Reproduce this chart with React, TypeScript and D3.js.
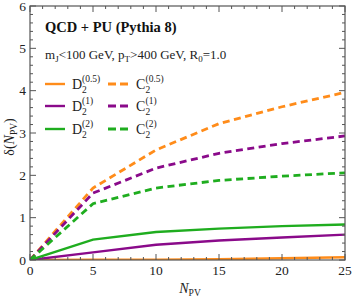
import React from "react";
import * as d3 from "d3";

const npv = [0, 5, 10, 15, 20, 25];
const D2_05 = [0, 0.005, 0.01, 0.02, 0.04, 0.065];
const D2_1 = [0, 0.18, 0.36, 0.46, 0.53, 0.6];
const D2_2 = [0, 0.48, 0.66, 0.74, 0.8, 0.84];
const C2_05 = [0, 1.7, 2.6, 3.22, 3.62, 3.96];
const C2_1 = [0, 1.58, 2.17, 2.52, 2.75, 2.93];
const C2_2 = [0, 1.33, 1.7, 1.88, 1.98, 2.06];
const xTicks = [0, 5, 10, 15, 20, 25];
const yTicks = [0, 1, 2, 3, 4, 5, 6];

const ORANGE = "#ff8c1a";
const PURPLE = "#8a0a8a";
const GREEN = "#1fad1f";

const series = [
  { vals: D2_05, color: ORANGE, dashed: false, sup: "(0.5)", base: "D" },
  { vals: D2_1, color: PURPLE, dashed: false, sup: "(1)", base: "D" },
  { vals: D2_2, color: GREEN, dashed: false, sup: "(2)", base: "D" },
  { vals: C2_05, color: ORANGE, dashed: true, sup: "(0.5)", base: "C" },
  { vals: C2_1, color: PURPLE, dashed: true, sup: "(1)", base: "C" },
  { vals: C2_2, color: GREEN, dashed: true, sup: "(2)", base: "C" },
];

export default function App() {
  const W = 354, H = 299;
  const L = 30, R = 345, T = 6, B = 260;
  const x = d3.scaleLinear().domain([0, 25]).range([L, R]);
  const y = d3.scaleLinear().domain([0, 6]).range([B, T]);
  const line = d3.line<number>().x((_, i) => x(npv[i])).y((v) => y(v));
  const font = "'Liberation Serif', 'DejaVu Serif', serif";
  const frame = "#555";
  const xMinor = d3.range(0, 25.01, 1);
  const yMinor = d3.range(0, 6.001, 0.2);

  const legendRows = [84, 106, 129];
  return (
    <div style={{ position: "fixed", left: 0, top: 0 }}>
      <svg width={W} height={H} style={{ display: "block", background: "white" }} fontFamily={font}>
        <defs>
          <clipPath id="clip">
            <rect x={L} y={T} width={R - L} height={B - T} />
          </clipPath>
        </defs>
        <g clipPath="url(#clip)">
          {series.map((s, i) => (
            <path
              key={i}
              d={line(s.vals) || ""}
              fill="none"
              stroke={s.color}
              strokeWidth={s.dashed ? 2.8 : 2.4}
              strokeDasharray={s.dashed ? "7,4.5" : undefined}
            />
          ))}
        </g>
        <rect x={L} y={T} width={R - L} height={B - T} fill="none" stroke={frame} strokeWidth={1.2} />
        {xMinor.map((v) => {
          const major = v % 5 === 0;
          const len = major ? 6 : 3;
          return (
            <g key={"xt" + v}>
              <line x1={x(v)} x2={x(v)} y1={B} y2={B - len} stroke={frame} strokeWidth={1} />
              <line x1={x(v)} x2={x(v)} y1={T} y2={T + len} stroke={frame} strokeWidth={1} />
            </g>
          );
        })}
        {yMinor.map((v) => {
          const major = Math.abs(v - Math.round(v)) < 1e-6;
          const len = major ? 6 : 3;
          return (
            <g key={"yt" + v.toFixed(1)}>
              <line x1={L} x2={L + len} y1={y(v)} y2={y(v)} stroke={frame} strokeWidth={1} />
              <line x1={R} x2={R - len} y1={y(v)} y2={y(v)} stroke={frame} strokeWidth={1} />
            </g>
          );
        })}
        {xTicks.map((v) => (
          <text key={"xl" + v} x={x(v)} y={B + 14.5} fontSize={13.5} textAnchor="middle" fill="#222">
            {v}
          </text>
        ))}
        {yTicks.map((v) => (
          <text key={"yl" + v} x={L - 4} y={y(v) + 4.5} fontSize={13.5} textAnchor="end" fill="#222">
            {v}
          </text>
        ))}
        <text x={190} y={B + 33} fontSize={14} textAnchor="middle" fill="#222">
          <tspan fontStyle="italic">N</tspan>
          <tspan fontSize={9.5} dy={3}>PV</tspan>
        </text>
        <text transform={`translate(14, 137) rotate(-90)`} fontSize={14} textAnchor="middle" fill="#222">
          δ(<tspan fontStyle="italic">N</tspan>
          <tspan fontSize={9.5} dy={3}>PV</tspan>
          <tspan dy={-3}>)</tspan>
        </text>
        <text x={45} y={32} fontSize={14.5} fontWeight="bold" fill="#111">
          QCD + PU (Pythia 8)
        </text>
        <text x={45} y={59} fontSize={13} fill="#222">
          m<tspan fontSize={9} dy={3}>J</tspan>
          <tspan dy={-3}>&lt;100 GeV, p</tspan>
          <tspan fontSize={9} dy={3}>T</tspan>
          <tspan dy={-3}>&gt;400 GeV, R</tspan>
          <tspan fontSize={9} dy={3}>0</tspan>
          <tspan dy={-3}>=1.0</tspan>
        </text>
        {series.map((s, i) => {
          const row = i % 3;
          const col = Math.floor(i / 3);
          const cy = legendRows[row];
          const lx = col === 0 ? 45 : 108;
          const tx = col === 0 ? 72 : 136;
          const bw = s.base === "D" ? 10 : 9.5;
          return (
            <g key={"lg" + i}>
              <line
                x1={lx}
                x2={lx + 20}
                y1={cy}
                y2={cy}
                stroke={s.color}
                strokeWidth={s.dashed ? 2.8 : 2.4}
                strokeDasharray={s.dashed ? "8,4" : undefined}
              />
              <text x={tx} y={cy + 5} fontSize={14} fill="#222">
                {s.base}
              </text>
              <text x={tx + bw} y={cy - 2} fontSize={9.5} fill="#222">
                {s.sup}
              </text>
              <text x={tx + bw} y={cy + 9} fontSize={9.5} fill="#222">
                2
              </text>
            </g>
          );
        })}
      </svg>
    </div>
  );
}
